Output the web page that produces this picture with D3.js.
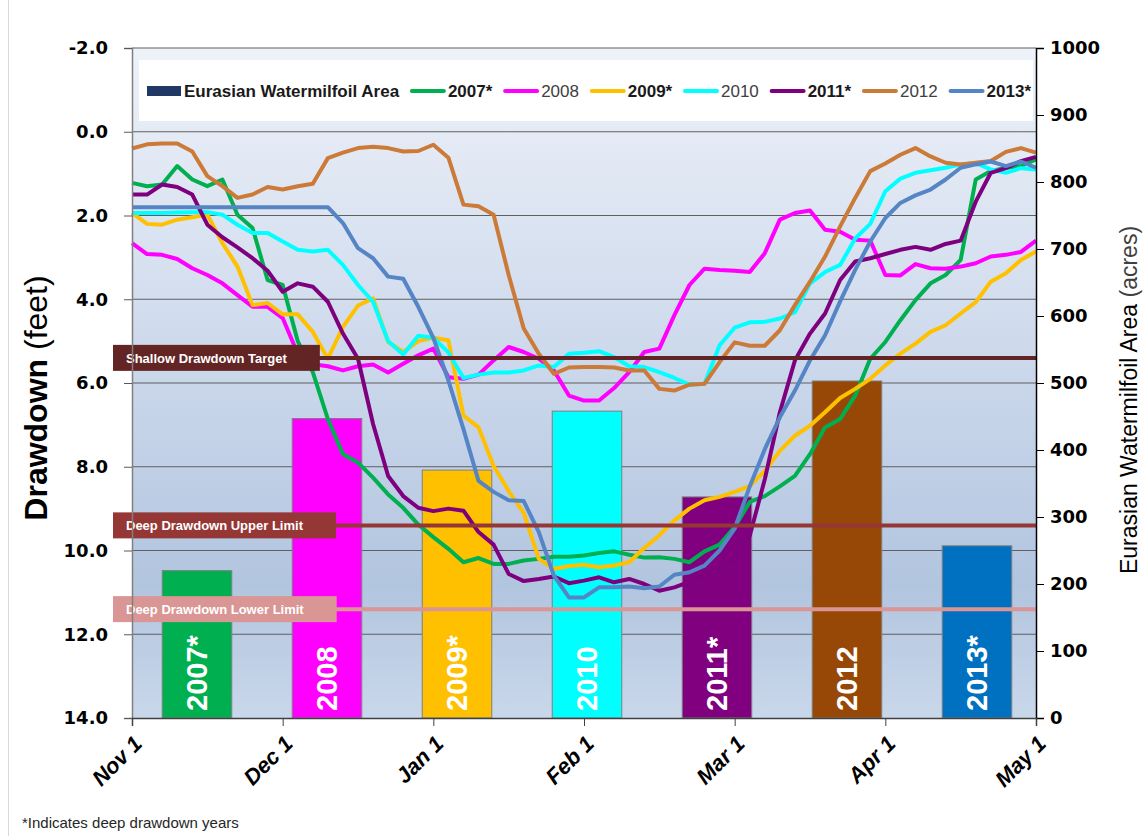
<!DOCTYPE html>
<html lang="en">
  <head>
    <meta charset="UTF-8" />
    <title>Drawdown and Eurasian Watermilfoil Area</title>
    <style>
      body {
        margin: 0;
        background: #fff;
      }
      svg {
        display: block;
        font-family: "Liberation Sans", Arial, sans-serif;
      }
      .axis-num text {
        font-family: "DejaVu Sans", Verdana, sans-serif;
        font-weight: bold;
        font-size: 18px;
        fill: #000;
      }
      .x-axis text {
        font-weight: bold;
        font-style: italic;
        font-size: 22px;
        fill: #000;
      }
    </style>
    <script src="https://cdn.jsdelivr.net/npm/d3@7"></script>
  </head>
  <body>
    <div class="container"></div>
    <script>
      // tick labels
      const months = ["Nov 1", "Dec 1", "Jan 1", "Feb 1", "Mar 1", "Apr 1", "May 1"];
      const drawdownTicks = [-2, 0, 2, 4, 6, 8, 10, 12, 14];
      const areaTicks = [0, 100, 200, 300, 400, 500, 600, 700, 800, 900, 1000];

      // bars: milfoil area (acres) per year
      const years = ["2007*", "2008", "2009*", "2010", "2011*", "2012", "2013*"];
      const milfoilArea = [220, 447, 370, 458, 330, 503, 257];

      // drawdown (feet), read every tenth of a month starting Nov 1
      const dd2007 = [1.22, 1.3, 1.26, 0.82, 1.14, 1.3, 1.14, 1.98, 2.3, 3.54, 3.66,
        5.0, 5.74, 6.86, 7.7, 7.9, 8.26, 8.66, 8.98, 9.38, 9.68,
        9.96, 10.28, 10.18, 10.32, 10.32, 10.24, 10.2, 10.15, 10.15, 10.12,
        10.06, 10.02, 10.1, 10.17, 10.16, 10.2, 10.28, 10.02, 9.86, 9.44,
        8.84, 8.7, 8.47, 8.22, 7.7, 7.06, 6.86, 6.3, 5.42, 5.02,
        4.5, 4.02, 3.62, 3.42, 3.06, 1.14, 0.94, 0.86, 0.82, 0.66];
      const dd2008 = [2.66, 2.92, 2.94, 3.04, 3.26, 3.42, 3.62, 3.9, 4.18, 4.18, 4.45,
        5.3, 5.55, 5.6, 5.7, 5.6, 5.56, 5.75, 5.54, 5.34,
        5.18, 5.86, 5.9, 5.8, 5.46, 5.14, 5.26, 5.42, 5.7, 6.3,
        6.42, 6.42, 6.12, 5.74, 5.26, 5.18, 4.38, 3.66, 3.27, 3.3,
        3.32, 3.35, 2.9, 2.1, 1.94, 1.88, 2.34, 2.39, 2.58, 2.6,
        3.42, 3.43, 3.16, 3.26, 3.27, 3.22, 3.14, 2.98, 2.94, 2.87, 2.6];
      const dd2009 = [1.94, 2.2, 2.22, 2.1, 2.04, 1.98, 2.66, 3.22, 4.14, 4.09, 4.36,
        4.36, 4.78, 5.42, 4.66, 4.15, 3.98, 5.02, 5.26, 5.0, 4.92,
        4.98, 6.78, 7.06, 7.98, 8.58, 9.1, 10.2, 10.44, 10.37, 10.34,
        10.4, 10.36, 10.28, 9.94, 9.64, 9.28, 9.0, 8.8, 8.72, 8.6,
        8.46, 8.1, 7.62, 7.26, 7.02, 6.7, 6.36, 6.14, 5.9, 5.58,
        5.3, 5.06, 4.78, 4.62, 4.34, 4.07, 3.58, 3.38, 3.06, 2.86];
      const dd2010 = [1.94, 1.94, 1.94, 1.93, 1.92, 1.92, 1.98, 2.22, 2.42, 2.42, 2.62,
        2.82, 2.86, 2.82, 3.18, 3.66, 4.06, 5.0, 5.32, 4.87, 4.92,
        5.27, 5.88, 5.8, 5.75, 5.75, 5.7, 5.58, 5.62, 5.3, 5.28,
        5.24, 5.38, 5.6, 5.62, 5.74, 5.88, 6.04, 6.02, 5.1, 4.68,
        4.55, 4.54, 4.46, 4.31, 3.62, 3.35, 3.18, 2.55, 2.2, 1.42,
        1.12, 0.98, 0.92, 0.86, 0.78, 0.75, 0.9, 0.98, 0.87, 0.9];
      const dd2011 = [1.5, 1.5, 1.26, 1.32, 1.5, 2.22, 2.52, 2.76, 3.02, 3.32, 3.82,
        3.62, 3.7, 4.06, 4.82, 5.42, 6.98, 8.22, 8.7, 8.98, 9.06,
        9.0, 9.05, 9.56, 9.86, 10.56, 10.73, 10.68, 10.62, 10.78, 10.72,
        10.64, 10.76, 10.68, 10.8, 10.96, 10.88, 10.75, 10.6, 10.4, 10.2,
        9.65, 8.3, 6.7, 5.46, 4.82, 4.34, 3.54, 3.1, 3.02, 2.92,
        2.82, 2.75, 2.82, 2.68, 2.6, 1.67, 0.98, 0.87, 0.7, 0.6];
      const dd2012 = [0.4, 0.3, 0.28, 0.28, 0.47, 1.06, 1.3, 1.58, 1.5, 1.32, 1.38,
        1.3, 1.24, 0.63, 0.5, 0.39, 0.36, 0.39, 0.47, 0.46, 0.31,
        0.62, 1.74, 1.78, 1.98, 3.42, 4.7, 5.3, 5.78, 5.63, 5.62,
        5.62, 5.63, 5.7, 5.7, 6.14, 6.18, 6.04, 6.02, 5.5, 5.03,
        5.11, 5.11, 4.74, 4.14, 3.58, 2.98, 2.26, 1.58, 0.94, 0.76,
        0.55, 0.39, 0.59, 0.74, 0.78, 0.74, 0.7, 0.48, 0.39, 0.5];
      const dd2013 = [1.8, 1.8, 1.8, 1.8, 1.8, 1.8, 1.8, 1.8, 1.8, 1.8, 1.8, 1.8, 1.8, 1.8,
        2.18, 2.78, 3.02, 3.46, 3.51, 4.18, 4.92,
        5.94, 7.1, 8.34, 8.6, 8.8, 8.82, 9.56, 10.6, 11.12, 11.12,
        10.88, 10.88, 10.86, 10.9, 10.86, 10.58, 10.52, 10.36, 10.0, 9.48,
        8.47, 7.58, 6.82, 6.18, 5.46, 4.86, 4.05, 3.3, 2.62, 2.06,
        1.7, 1.52, 1.38, 1.14, 0.86, 0.78, 0.71, 0.82, 0.71, 0.86];
      const drawdowns = [dd2007, dd2008, dd2009, dd2010, dd2011, dd2012, dd2013];

      // target levels (feet)
      const targetNames = ["Shallow Drawdown Target", "Deep Drawdown Upper Limit", "Deep Drawdown Lower Limit"];
      const targetDepths = [5.4, 9.4, 11.4];

      const barColors = ["#00b050", "#ff00ff", "#ffc000", "#00ffff", "#800080", "#974806", "#0070c0"];
      const lineColors = ["#00b050", "#ff00ff", "#ffc000", "#00ffff", "#7f007f", "#cc7a38", "#5585c4"];
      const targetColors = ["#632523", "#953735", "#d99694"];
      const areaColor = "#1f3864";

      function init() {
        const width = 1146,
          height = 836;
        const left = 132,
          right = 1036,
          top = 48,
          bottom = 718;

        const x = d3.scaleLinear().domain([0, 6]).range([left, right]);
        const y = d3.scaleLinear().domain([-2, 14]).range([top, bottom]);
        const yArea = d3.scaleLinear().domain([0, 1000]).range([bottom, top]);
        const band = d3
          .scaleBand()
          .domain(years)
          .range([left, right + 6])
          .paddingInner(0.465)
          .paddingOuter(0.2325);

        const svg = d3
          .select(".container")
          .append("svg")
          .attr("width", width)
          .attr("height", height);

        // faint outer frame
        svg
          .append("line")
          .attr("x1", 8.5)
          .attr("x2", 8.5)
          .attr("y1", 0)
          .attr("y2", height)
          .attr("stroke", "#d9d9d9");

        const grad = svg
          .append("defs")
          .append("linearGradient")
          .attr("id", "bg")
          .attr("x1", 0)
          .attr("y1", 0)
          .attr("x2", 0)
          .attr("y2", 1);
        [
          [0, "#eef2f9"],
          [0.55, "#c6d4e9"],
          [0.8, "#b2c5df"],
          [1, "#c9d7ea"],
        ].forEach(function (s) {
          grad.append("stop").attr("offset", s[0]).attr("stop-color", s[1]);
        });

        svg
          .append("rect")
          .attr("x", left)
          .attr("y", top)
          .attr("width", right - left)
          .attr("height", bottom - top)
          .attr("fill", "url(#bg)");

        // gridlines
        svg
          .append("g")
          .selectAll("line")
          .data(drawdownTicks.slice(0, -1))
          .enter()
          .append("line")
          .attr("x1", left)
          .attr("x2", right)
          .attr("y1", (d) => y(d))
          .attr("y2", (d) => y(d))
          .attr("stroke", "#5f5f5f")
          .attr("stroke-width", 1.2);

        // bars
        const bars = svg.append("g");
        bars
          .selectAll("rect")
          .data(milfoilArea)
          .enter()
          .append("rect")
          .attr("x", (d, i) => band(years[i]))
          .attr("width", band.bandwidth())
          .attr("y", (d) => yArea(d))
          .attr("height", (d) => yArea(0) - yArea(d))
          .attr("fill", (d, i) => barColors[i])
          .attr("stroke", "#7f7f7f")
          .attr("stroke-width", 1);

        bars
          .selectAll("text")
          .data(years)
          .enter()
          .append("text")
          .attr("transform", function (d) {
            const cx = band(d) + band.bandwidth() / 2 + 10;
            return "translate(" + cx + "," + (bottom - 7) + ") rotate(-90)";
          })
          .attr("fill", "#fff")
          .attr("font-size", 29)
          .attr("font-weight", "bold")
          .text((d) => d);

        // drawdown lines
        const line = d3
          .line()
          .x((d, i) => x(i / 10))
          .y((d) => y(d));

        svg
          .append("g")
          .selectAll("path")
          .data(drawdowns)
          .enter()
          .append("path")
          .attr("d", line)
          .attr("fill", "none")
          .attr("stroke", (d, i) => lineColors[i])
          .attr("stroke-width", 4)
          .attr("stroke-linejoin", "round");

        // target lines with labels
        const targets = svg
          .append("g")
          .selectAll("g")
          .data(targetDepths)
          .enter()
          .append("g");

        targets
          .append("line")
          .attr("x1", 113)
          .attr("x2", right)
          .attr("y1", (d) => y(d))
          .attr("y2", (d) => y(d))
          .attr("stroke", (d, i) => targetColors[i])
          .attr("stroke-width", 4);

        const boxes = targets
          .append("rect")
          .attr("x", 113)
          .attr("y", (d) => y(d) - 13)
          .attr("height", 26)
          .attr("fill", (d, i) => targetColors[i]);

        const boxText = targets
          .append("text")
          .attr("x", 126)
          .attr("y", (d) => y(d) + 5)
          .attr("fill", "#fff")
          .attr("font-size", 13)
          .attr("font-weight", "bold")
          .text((d, i) => targetNames[i]);

        boxText.each(function (d, i) {
          const w = this.getComputedTextLength();
          d3.select(boxes.nodes()[i]).attr("width", w + 46);
        });

        // axes
        const yAxis = svg
          .append("g")
          .attr("class", "axis-num")
          .attr("transform", "translate(" + left + ",0)")
          .call(
            d3
              .axisLeft(y)
              .tickValues(drawdownTicks)
              .tickFormat((d) => d.toFixed(1))
              .tickSize(8)
              .tickPadding(16)
          );
        yAxis.select(".domain").attr("stroke", "#808080").attr("stroke-width", 1.5);
        yAxis.selectAll(".tick line").attr("stroke", "#595959");

        const yAxisR = svg
          .append("g")
          .attr("class", "axis-num")
          .attr("transform", "translate(" + right + ",0)")
          .call(
            d3
              .axisRight(yArea)
              .tickValues(areaTicks)
              .tickFormat(d3.format("d"))
              .tickSize(8)
              .tickPadding(6)
          );
        yAxisR.select(".domain").attr("stroke", "#000").attr("stroke-width", 1.5);

        const xAxis = svg
          .append("g")
          .attr("class", "x-axis")
          .attr("transform", "translate(0," + bottom + ")")
          .call(
            d3
              .axisBottom(x)
              .tickValues(d3.range(months.length))
              .tickFormat((i) => months[i])
              .tickSize(8)
          );
        xAxis.select(".domain").attr("stroke", "#404040").attr("stroke-width", 1.5);
        xAxis.selectAll(".tick line").attr("stroke", "#404040");
        xAxis
          .selectAll(".tick text")
          .attr("text-anchor", "end")
          .attr("x", null)
          .attr("y", null)
          .attr("dy", null)
          .attr("transform", "translate(11,27) rotate(-45)");

        // axis titles
        const titleL = svg
          .append("text")
          .attr("transform", "translate(47,398) rotate(-90)")
          .attr("text-anchor", "middle")
          .attr("font-size", 32);
        titleL.append("tspan").attr("font-weight", "bold").text("Drawdown");
        titleL.append("tspan").text(" (feet)");

        const titleR = svg
          .append("text")
          .attr("transform", "translate(1137,400) rotate(-90)")
          .attr("text-anchor", "middle")
          .attr("font-size", 23);
        titleR.append("tspan").text("Eurasian Watermilfoil Area");
        titleR.append("tspan").attr("fill", "#404040").text(" (acres)");

        // legend
        const legendLeft = 147,
          legendRight = 1031,
          legendY = 91,
          swatch = 34,
          swatchGap = 3;

        svg
          .append("rect")
          .attr("x", 139)
          .attr("y", 60)
          .attr("width", 894)
          .attr("height", 61)
          .attr("fill", "#fff");

        const legendItems = [{ name: "Eurasian Watermilfoil Area", color: areaColor, area: true, bold: true }].concat(
          years.map((yr, i) => ({ name: yr, color: lineColors[i], area: false, bold: yr.indexOf("*") > -1 }))
        );

        const legend = svg
          .selectAll(".legend")
          .data(legendItems)
          .enter()
          .append("g")
          .attr("class", "legend");

        legend
          .append("text")
          .attr("y", legendY + 6)
          .attr("font-size", 17)
          .attr("font-weight", (d) => (d.bold ? "bold" : "normal"))
          .attr("fill", (d) => (d.bold ? "#1a1a1a" : "#404040"))
          .text((d) => d.name);

        const widths = legend.select("text").nodes().map((n) => n.getComputedTextLength());
        const used = d3.sum(widths) + legendItems.length * (swatch + swatchGap);
        const gap = (legendRight - legendLeft - used) / (legendItems.length - 1);

        let cursor = legendLeft;
        legend.each(function (d, i) {
          const g = d3.select(this).attr("transform", "translate(" + cursor + ",0)");
          if (d.area) {
            g.append("rect")
              .attr("y", legendY - 5)
              .attr("width", swatch)
              .attr("height", 10)
              .attr("fill", d.color);
          } else {
            g.append("line")
              .attr("x1", 1)
              .attr("x2", swatch - 1)
              .attr("y1", legendY)
              .attr("y2", legendY)
              .attr("stroke", d.color)
              .attr("stroke-width", 4)
              .attr("stroke-linecap", "round");
          }
          g.select("text").attr("x", swatch + swatchGap);
          cursor += swatch + swatchGap + widths[i] + gap;
        });

        // footnote
        svg
          .append("text")
          .attr("x", 22)
          .attr("y", 828)
          .attr("font-size", 15)
          .attr("fill", "#262626")
          .text("*Indicates deep drawdown years");
      }
      init();
    </script>
  </body>
</html>
